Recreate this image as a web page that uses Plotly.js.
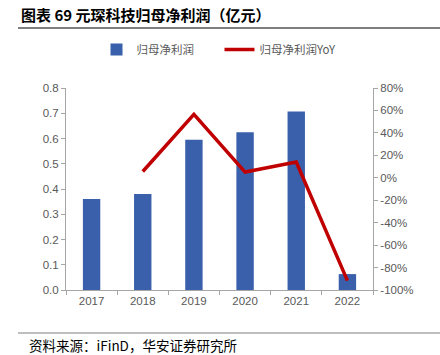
<!DOCTYPE html>
<html>
<head>
<meta charset="utf-8">
<script src="https://cdn.plot.ly/plotly-3.0.1.min.js"></script>
<style>html,body{margin:0;padding:0;background:#fff;}#chart{width:440px;height:355px;}</style>
</head>
<body>
<div id="chart"></div>
<script>
const years = ['2017','2018','2019','2020','2021','2022'];
const profit = [0.36, 0.38, 0.595, 0.625, 0.707, 0.063];
const yoyYears = ['2018','2019','2020','2021','2022'];
const yoy = [5.6, 56.6, 5.1, 14.0, -91.6];
const leftTicks = [0,0.1,0.2,0.3,0.4,0.5,0.6,0.7,0.8];
const rightTicks = [-100,-80,-60,-40,-20,0,20,40,60,80];
const rightTickText = rightTicks.map(v => String(v) + '%');

const tickFont = {family:'Liberation Sans, Arial, sans-serif', size:11.5, color:'#595959'};
const axisColor = '#A6A6A6';

const data = [
  {type:'bar', x:years, y:profit, name:'归母净利润', marker:{color:'#3A60AB'}, width:0.34, yaxis:'y'},
  {type:'scatter', mode:'lines', x:yoyYears, y:yoy, name:'归母净利润YoY', line:{color:'#C00000', width:3.5}, yaxis:'y2'}
];

const layout = {
  width:440, height:355,
  margin:{l:66, r:67, t:88, b:65},
  paper_bgcolor:'#fff', plot_bgcolor:'#fff',
  showlegend:true,
  legend:{orientation:'h', x:0.5, xanchor:'center', y:1.19, yanchor:'middle', entrywidth:78, entrywidthmode:'pixels',
    font:{family:'Noto Sans CJK SC, sans-serif', size:11.5, color:'#595959'}, itemwidth:30, tracegroupgap:0},
  xaxis:{type:'category', range:[-0.5,5.5], tickson:'boundaries', ticks:'outside', ticklen:4, tickcolor:axisColor,
    showline:true, linecolor:axisColor, linewidth:1, showgrid:false, tickfont:tickFont, fixedrange:true},
  yaxis:{range:[0,0.8], tickvals:leftTicks, tickformat:'.1f', ticks:'outside', ticklen:4, tickcolor:axisColor,
    showline:true, linecolor:axisColor, showgrid:false, zeroline:false, tickfont:tickFont},
  yaxis2:{overlaying:'y', side:'right', range:[-100,80], tickmode:'array', tickvals:rightTicks, ticktext:rightTickText, ticks:'outside', ticklen:4,
    tickcolor:axisColor, showline:true, linecolor:axisColor, showgrid:false, zeroline:false, tickfont:tickFont},
  shapes:[
    {type:'line', xref:'paper', yref:'paper', x0:-48/307, x1:374/307, y0:(355-65-28)/202, y1:(355-65-28)/202, line:{color:'#7F7F7F', width:2}},
    {type:'line', xref:'paper', yref:'paper', x0:-48/307, x1:374/307, y0:-(333-290)/202, y1:-(333-290)/202, line:{color:'#7F7F7F', width:1}}
  ],
  annotations:[
    {text:'<b>图表 69 元琛科技归母净利润（亿元）</b>', xref:'paper', yref:'paper', x:-47/307, y:(290-15)/202, xanchor:'left', yanchor:'middle', showarrow:false,
      font:{family:'Noto Sans CJK SC, sans-serif', size:15, color:'#000'}},
    {text:'资料来源：iFinD，华安证券研究所', xref:'paper', yref:'paper', x:-39/307, y:-(345-290)/202, xanchor:'left', yanchor:'middle', showarrow:false,
      font:{family:'Noto Sans CJK SC, sans-serif', size:13.5, color:'#000'}}
  ]
};

Plotly.newPlot('chart', data, layout, {displayModeBar:false, staticPlot:true});
</script>
</body>
</html>
